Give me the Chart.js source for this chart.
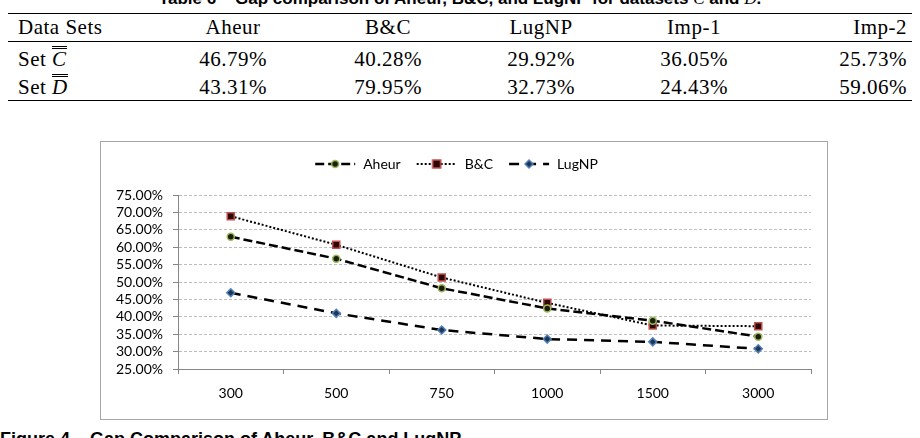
<!DOCTYPE html>
<html>
<head>
<meta charset="utf-8">
<script src="https://cdn.jsdelivr.net/npm/chart.js@4.4.1/dist/chart.umd.min.js"></script>
<style>
  html, body { margin: 0; padding: 0; background: #fff; width: 920px; height: 438px; overflow: hidden; }
  .cap-top { position: absolute; top: -11px; left: 0; width: 920px; text-align: center;
    font: bold 17px "Liberation Sans", Arial, sans-serif; white-space: nowrap; }
  .cap-top i { font-family: "Liberation Serif", serif; font-weight: normal; text-decoration: overline; }
  table.gap { position: absolute; left: 8px; top: 13px; width: 904px; border-collapse: collapse;
    font: 21px "Liberation Serif", "DejaVu Serif", serif; letter-spacing: 0.5px; table-layout: fixed; }
  table.gap td { padding: 0; text-align: center; white-space: nowrap; }
  table.gap td:first-child { text-align: left; padding-left: 10px; }
  table.gap td:last-child { text-align: right; padding-right: 5px; }
  table.gap tr.head td { height: 27px; border-top: 1.5px solid #000; border-bottom: 1px solid #000; }
  table.gap tr.r1 td { height: 30px; padding-top: 2px; }
  table.gap tr.r2 td { height: 26px; border-bottom: 1.5px solid #000; }
  .dbl { display: inline-block; font-style: italic; border-top: 3px double #000; line-height: 18px; padding-top: 1px; }
  .chartbox { position: absolute; left: 100px; top: 141px; width: 726px; height: 277px; border: 1px solid #a6a6a6; }
  .cap-bot { position: absolute; left: 0; top: 429px; font: bold 18px "Liberation Sans", Arial, sans-serif; white-space: nowrap; }
</style>
</head>
<body>
<div class="cap-top">Table 6&nbsp;&nbsp;&nbsp;&nbsp;Gap comparison of Aheur, B&amp;C, and LugNP for datasets <i>C</i> and <i>D</i>.</div>
<table class="gap">
  <colgroup><col style="width:148px"><col style="width:154px"><col style="width:156px"><col style="width:150px"><col style="width:156px"><col style="width:140px"></colgroup>
  <tr class="head"><td>Data Sets</td><td>Aheur</td><td>B&amp;C</td><td>LugNP</td><td>Imp-1</td><td>Imp-2</td></tr>
  <tr class="r1"><td>Set <span class="dbl">C</span></td><td>46.79%</td><td>40.28%</td><td>29.92%</td><td>36.05%</td><td>25.73%</td></tr>
  <tr class="r2"><td>Set <span class="dbl">D</span></td><td>43.31%</td><td>79.95%</td><td>32.73%</td><td>24.43%</td><td>59.06%</td></tr>
</table>
<div class="chartbox"><canvas id="gapChart" width="726" height="277"></canvas></div>
<div class="cap-bot">Figure 4&nbsp;&nbsp;&nbsp;&nbsp;Gap Comparison of Aheur, B&amp;C and LugNP</div>
<script>
// Gap (%) per datasetgrootte.
const SIZES = ["300", "500", "750", "1000", "1500", "3000"];
const AHEUR = [63.0, 56.7, 48.2, 42.4, 38.9, 34.3];
const BC = [68.9, 60.7, 51.3, 44.0, 37.5, 37.3];
const LUGNP = [46.9, 41.0, 36.2, 33.6, 32.8, 30.8];
const Y_MIN = 25;
const Y_MAX = 75;
const Y_STEP = 5;

const FONT = "Lato, 'Liberation Sans', sans-serif";
const AXIS = "#868686";
const GRID = "#bdbdbd";
const LINE = "#000";

// legend-icoon: stippellijn met marker in het midden
function makeIcon(dash, width, style, fill, stroke) {
  const c = document.createElement("canvas");
  c.width = 42;
  c.height = 12;
  const ctx = c.getContext("2d");
  ctx.strokeStyle = LINE;
  ctx.lineWidth = width;
  ctx.setLineDash(dash);
  ctx.beginPath();
  ctx.moveTo(1, 6);
  ctx.lineTo(41, 6);
  ctx.stroke();
  ctx.setLineDash([]);
  ctx.fillStyle = fill;
  ctx.strokeStyle = stroke;
  ctx.lineWidth = 1.5;
  ctx.beginPath();
  if (style === "circle") ctx.arc(21, 6, 3.5, 0, Math.PI * 2);
  else if (style === "rect") ctx.rect(17, 2, 8, 8);
  else { ctx.moveTo(21, 2); ctx.lineTo(25, 6); ctx.lineTo(21, 10); ctx.lineTo(17, 6); ctx.closePath(); }
  ctx.fill();
  ctx.stroke();
  return c;
}

const series = [
  { label: "Aheur", data: AHEUR, dash: [9, 4], width: 2.5, style: "circle", radius: 3.5, fill: "#1c1c10", stroke: "#9bbb59" },
  { label: "B&C", data: BC, dash: [2, 2], width: 2, style: "rect", radius: 5, fill: "#2a0808", stroke: "#c0504d" },
  { label: "LugNP", data: LUGNP, dash: [10, 7], width: 2.5, style: "rectRot", radius: 4, fill: "#1f3550", stroke: "#4f81bd" },
];
const icons = series.map((s) => makeIcon(s.dash, s.width, s.style, s.fill, s.stroke));

// legenda vaste hoogte geven zodat het plotvlak op de juiste plek begint
const legendSpacer = {
  id: "legendSpacer",
  beforeLayout(chart) {
    const lg = chart.legend;
    if (!lg || lg._patched) return;
    const fit = lg.fit;
    lg.fit = function () { fit.call(this); this.height = 53; };
    lg._patched = true;
  },
};

new Chart(document.getElementById("gapChart"), {
  type: "line",
  data: {
    labels: SIZES,
    datasets: series.map((s) => ({
      label: s.label,
      data: s.data,
      borderColor: LINE,
      borderWidth: s.width,
      borderDash: s.dash,
      fill: false,
      tension: 0,
      pointStyle: s.style,
      pointRadius: s.radius,
      pointBackgroundColor: s.fill,
      pointBorderColor: s.stroke,
      pointBorderWidth: 1.5,
    })),
  },
  options: {
    responsive: false,
    animation: false,
    layout: { padding: { left: 0, right: 16, top: 0, bottom: 0 } },
    plugins: {
      tooltip: { enabled: false },
      legend: {
        position: "top",
        labels: {
          usePointStyle: true,
          pointStyleWidth: 42,
          padding: 15,
          color: "#000",
          font: { family: FONT, size: 14 },
          generateLabels(chart) {
            const items = Chart.defaults.plugins.legend.labels.generateLabels(chart);
            items.forEach((it, i) => { it.pointStyle = icons[i]; });
            return items;
          },
        },
      },
    },
    scales: {
      x: {
        offset: true,
        grid: { display: true, offset: true, drawOnChartArea: false, drawTicks: true, tickLength: 5, tickColor: AXIS },
        border: { color: AXIS, width: 1 },
        ticks: { color: "#000", font: { family: FONT, size: 14 }, padding: 11, maxRotation: 0 },
        afterFit: (s) => { s.height = 50; },
      },
      y: {
        min: Y_MIN,
        max: Y_MAX,
        grid: { color: GRID, tickColor: AXIS, tickLength: 5 },
        border: { color: AXIS, width: 1, dash: [3, 2] },
        ticks: {
          stepSize: Y_STEP,
          autoSkip: false,
          color: "#000",
          padding: 10,
          font: { family: FONT, size: 14 },
          callback: (v) => v.toFixed(2) + "%",
        },
        afterFit: (s) => { s.width = 77; },
      },
    },
  },
  plugins: [legendSpacer],
});
</script>
</body>
</html>
